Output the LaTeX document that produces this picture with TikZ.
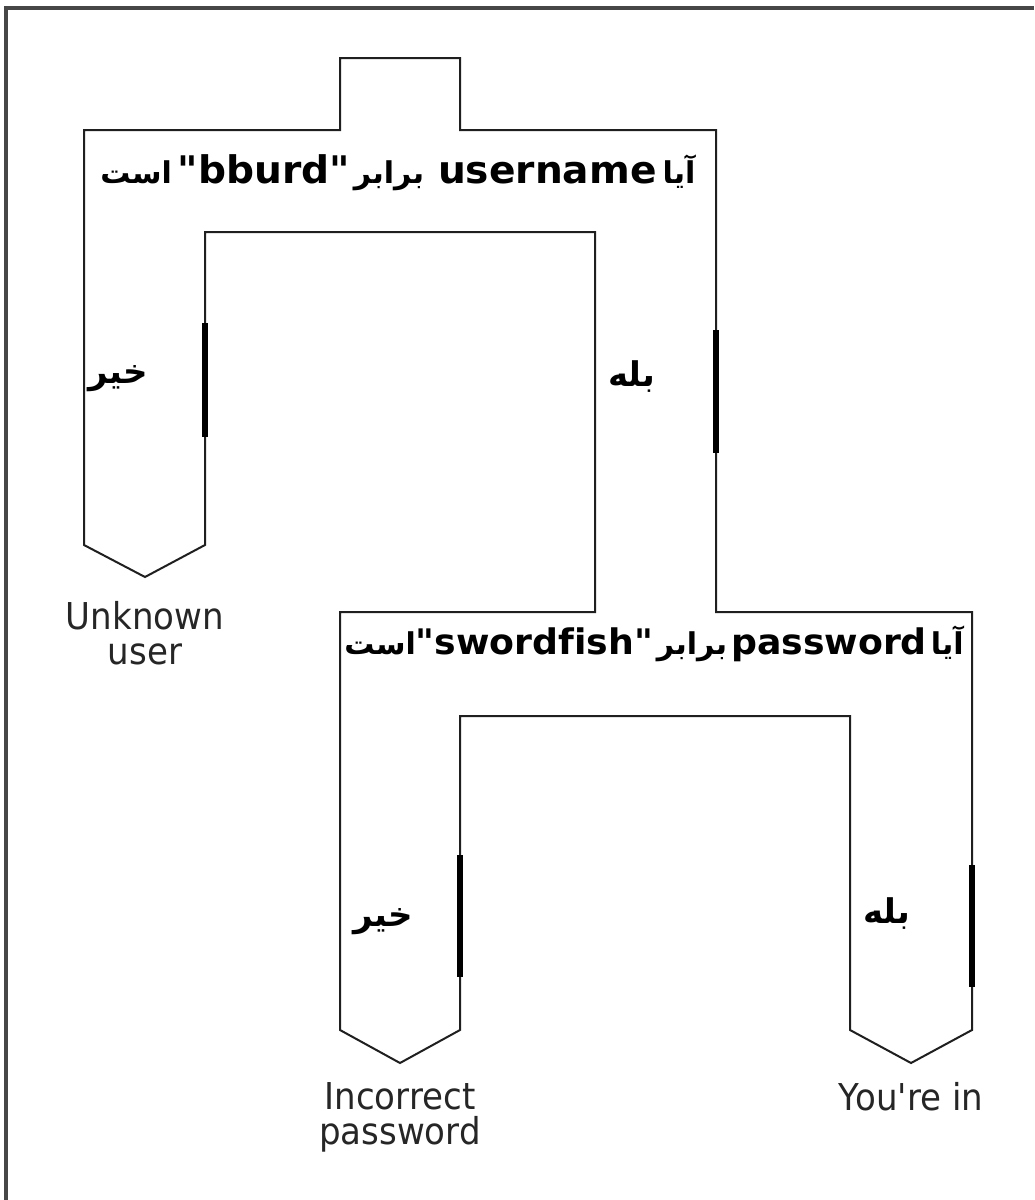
\documentclass[tikz,border=0pt]{standalone}
\usepackage{fontspec}
\TeXXeTstate=1
\setmainfont{DejaVu Sans}
\newfontfamily\arfont[Script=Arabic]{DejaVu Sans}
\newfontfamily\latfont[FakeStretch=1.03,Ligatures=CommonOff]{DejaVu Sans}
\newfontfamily\lblfont[FakeStretch=0.92]{DejaVu Sans}
\newcommand{\fa}[1]{{\arfont\beginR #1\endR}}
\newcommand{\faq}[1]{{\fontsize{15}{16}\selectfont\arfont\beginR #1\endR}}
\tikzset{
  outline/.style={draw=black!88, line width=1pt, line join=miter},
  thickbar/.style={draw=black, line width=2.8pt},
  frameline/.style={draw=black!72, line width=1.6pt},
  question/.style={font=\fontsize{19}{20}\selectfont\latfont\bfseries, inner sep=0pt, anchor=base},
  answer/.style={font=\fontsize{17}{18}\selectfont\arfont\bfseries, inner sep=0pt},
  endlabel/.style={font=\fontsize{18.5}{17.5}\selectfont\lblfont, text=black!85, align=center, anchor=north, inner sep=0pt}
}
\begin{document}
\begin{tikzpicture}[x=0.5pt,y=-0.5pt]
\useasboundingbox (0,0) rectangle (1034,1200);
% frame (left and top edges)
\draw[frameline] (6,1200) -- (6,8) -- (1034,8);
% the single outline of the flow shape
\draw[outline] (84,545) -- (84,130) -- (340,130) -- (340,58) -- (460,58) -- (460,130)
  -- (716,130) -- (716,612) -- (972,612) -- (972,1030) -- (911,1063) -- (850,1030)
  -- (850,716) -- (460,716) -- (460,1030) -- (400,1063) -- (340,1030) -- (340,612)
  -- (595,612) -- (595,232) -- (205,232) -- (205,545) -- (145,577) -- cycle;
% thick marks
\coordinate (b1s) at (205,323); \coordinate (b1e) at (205,437);
\coordinate (b2s) at (716,330); \coordinate (b2e) at (716,453);
\coordinate (b3s) at (460,855); \coordinate (b3e) at (460,977);
\coordinate (b4s) at (972,865); \coordinate (b4e) at (972,987);
\draw[thickbar] (b1s) -- (b1e);
\draw[thickbar] (b2s) -- (b2e);
\draw[thickbar] (b3s) -- (b3e);
\draw[thickbar] (b4s) -- (b4e);
% questions
\node[question] (q1) at (398,183) {\faq{است}\hspace{3pt}"bburd"\hspace{2pt}\faq{برابر}\hspace{7pt}username\hspace{3pt}\faq{آیا}};
\node[question, font=\fontsize{17.6}{20}\selectfont\latfont\bfseries] (q2) at (654,654) {\faq{است}"swordfish"\hspace{2pt}\faq{برابر}\hspace{2pt}password\hspace{2pt}\faq{آیا}};
% answers
\node[answer] (no1) at (118,379) {\fa{خیر}};
\node[answer] (yes1) at (632,377) {\fa{بله}};
\node[answer] (no2) at (383,922) {\fa{خیر}};
\node[answer] (yes2) at (887,914) {\fa{بله}};
% outcomes
\node[endlabel] (unk) at (145,601) {Unknown\\user};
\node[endlabel] (inc) at (400,1082) {Incorrect\\password};
\node[endlabel] (in) at (911,1082) {You're in};
\end{tikzpicture}
\end{document}
